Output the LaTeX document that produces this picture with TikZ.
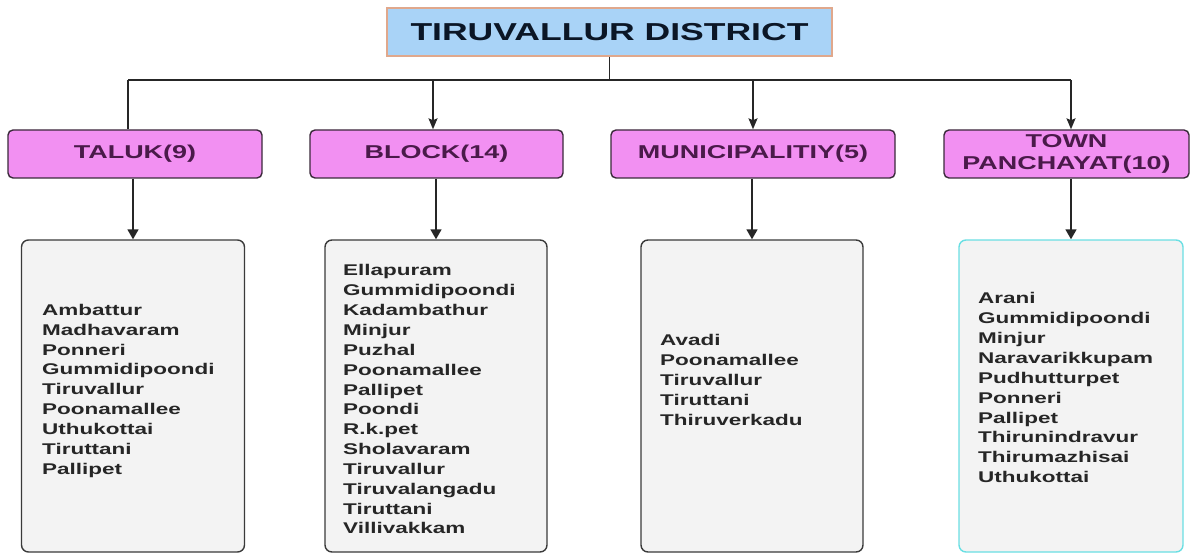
\documentclass[tikz,border=0pt]{standalone}
\usepackage{fontspec}
\setmainfont{Liberation Sans}
\newfontfamily\wf[FakeStretch=1.45]{Liberation Sans}
\usetikzlibrary{arrows.meta}
\definecolor{titlefill}{HTML}{A9D3F7}
\definecolor{titleborder}{HTML}{E0A88C}
\definecolor{titletext}{HTML}{0B1626}
\definecolor{catfill}{HTML}{F290F2}
\definecolor{catborder}{HTML}{3A2A3A}
\definecolor{cattext}{HTML}{4A1A4A}
\definecolor{listfill}{HTML}{F3F3F3}
\definecolor{listborder}{HTML}{3A3A3A}
\definecolor{cyanborder}{HTML}{6ADFE3}
\begin{document}
\begin{tikzpicture}[x=1pt,y=-1pt,
  titlebox/.style={draw=titleborder, line width=1.5pt, fill=titlefill, minimum width=445pt, minimum height=48pt, inner sep=0pt, font=\wf\bfseries\fontsize{24.5}{28}\selectfont, text=titletext},
  catbox/.style={draw=catborder, line width=1.4pt, fill=catfill, rounded corners=5pt, minimum height=48pt, inner sep=0pt, align=center, font=\wf\bfseries\fontsize{18.6}{22}\selectfont, text=cattext},
  listbox/.style={draw=listborder, line width=1.4pt, fill=listfill, rounded corners=7pt, minimum width=223pt, minimum height=312pt, inner sep=0pt},
  listtext/.style={anchor=north west, inner sep=0pt, align=left, font=\wf\bfseries\fontsize{15.5}{19.85}\selectfont, text=black!85},
  conn/.style={line width=1.7pt, draw=black!85},
  arr/.style={conn, -{Stealth[length=11pt,width=9pt,inset=2pt]}},
  arrb/.style={conn, -{Triangle[length=10pt,width=11pt]}}
]
\useasboundingbox (0,0) rectangle (1191,556);

% title
\node[titlebox] (title) at (609.5,32) {TIRUVALLUR DISTRICT};

% categories
\node[catbox, minimum width=254pt] (taluk) at (135,154) {TALUK(9)};
\node[catbox, minimum width=253pt] (block) at (436.5,154) {BLOCK(14)};
\node[catbox, minimum width=284pt] (muni) at (753,154) {MUNICIPALITIY(5)};
\node[catbox, minimum width=245pt] (town) at (1066.5,154) {TOWN\\PANCHAYAT(10)};

% list boxes
\node[listbox] (tlist) at (133,396) {};
\node[listbox, minimum width=222pt] (blist) at (436,396) {};
\node[listbox, minimum width=222pt] (mlist) at (752,396) {};
\node[listbox, minimum width=224pt, draw=cyanborder] (wlist) at (1071,396) {};

% list texts
\node[listtext] (ttext) at (42,304) {Ambattur\\Madhavaram\\Ponneri\\Gummidipoondi\\Tiruvallur\\Poonamallee\\Uthukottai\\Tiruttani\\Pallipet};
\node[listtext] (btext) at (343,264.5) {Ellapuram\\Gummidipoondi\\Kadambathur\\Minjur\\Puzhal\\Poonamallee\\Pallipet\\Poondi\\R.k.pet\\Sholavaram\\Tiruvallur\\Tiruvalangadu\\Tiruttani\\Villivakkam};
\node[listtext] (mtext) at (660,334.5) {Avadi\\Poonamallee\\Tiruvallur\\Tiruttani\\Thiruverkadu};
\node[listtext] (wtext) at (978,292.5) {Arani\\Gummidipoondi\\Minjur\\Naravarikkupam\\Pudhutturpet\\Ponneri\\Pallipet\\Thirunindravur\\Thirumazhisai\\Uthukottai};

% bus
\coordinate (busL) at (128,80);
\coordinate (busB) at (433,80);
\coordinate (busR) at (1071,80);
\draw[conn] (title.south) -- (title.south |- busL);
\draw[conn] (busL) -- (busR);
\draw[conn] (busL) -- (busL |- taluk.north);
\draw[arr] (busB) -- (busB |- block.north);
\draw[arr] (muni.north |- busL) -- (muni.north);
\draw[arr] (busR) -- (busR |- town.north);

% arrows to lists
\draw[arrb] (tlist.north |- taluk.south) -- (tlist.north);
\draw[arrb] (blist.north |- block.south) -- (blist.north);
\draw[arrb] (mlist.north |- muni.south) -- (mlist.north);
\draw[arrb] (wlist.north |- town.south) -- (wlist.north);
\end{tikzpicture}
\end{document}
